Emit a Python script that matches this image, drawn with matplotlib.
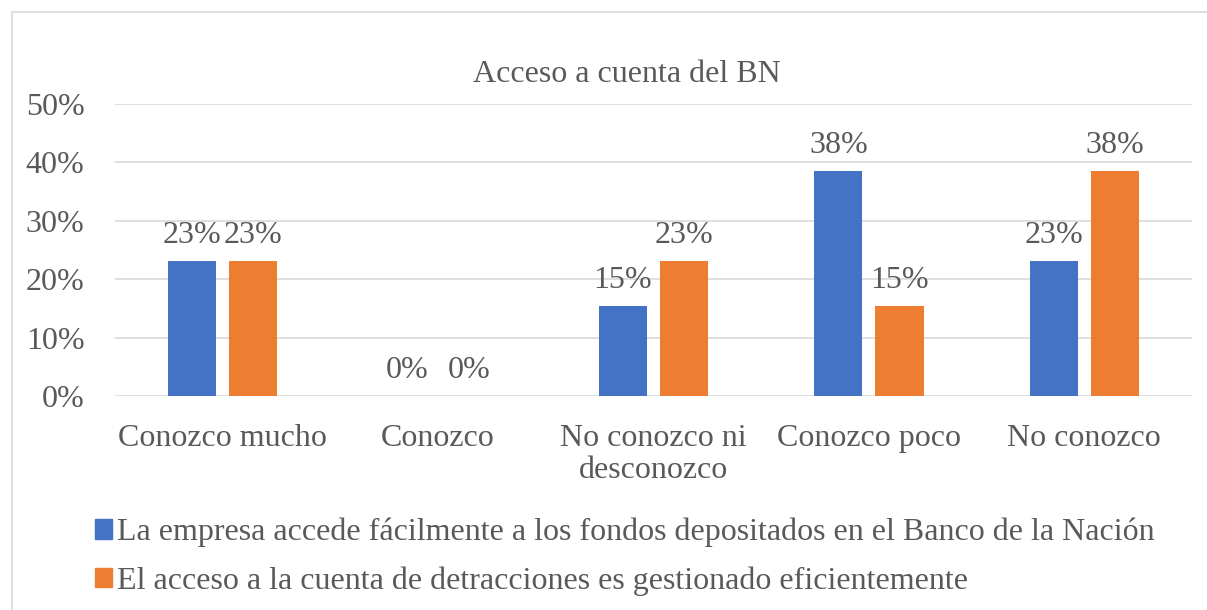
import matplotlib.pyplot as plt
import matplotlib.patches as mpatches
import numpy as np

categories = ["Conozco mucho", "Conozco", "No conozco ni\ndesconozco", "Conozco poco", "No conozco"]
serie_1 = [0.2308, 0.0, 0.1538, 0.3846, 0.2308]
serie_2 = [0.2308, 0.0, 0.2308, 0.1538, 0.3846]
labels_series = ["La empresa accede fácilmente a los fondos depositados en el Banco de la Nación",
                 "El acceso a la cuenta de detracciones es gestionado eficientemente"]
title = "Acceso a cuenta del BN"

plt.rcParams['font.family'] = ['Liberation Serif', 'DejaVu Serif']
gray = "#595959"
blue = "#4472C4"
orange = "#ED7D31"
fs = 23

fig = plt.figure(figsize=(12.07, 6.10), dpi=100)
ax = fig.add_axes([115 / 1207, 1 - 396 / 610, (1192 - 115) / 1207, (396 - 104) / 610])

x = np.arange(len(categories))
w = 0.223
off = 0.142
b1 = ax.bar(x - off, serie_1, w, color=blue, zorder=3)
b2 = ax.bar(x + off, serie_2, w, color=orange, zorder=3)

for bars in (b1, b2):
    for b in bars:
        h = b.get_height()
        ax.annotate(f"{h * 100:.0f}%", (b.get_x() + b.get_width() / 2, h),
                    xytext=(0, 8), textcoords="offset points",
                    ha="center", va="bottom", fontsize=fs, color=gray)

ax.set_xlim(-0.5, len(categories) - 0.5)
ax.set_ylim(0, 0.5)
ax.set_yticks(np.arange(0, 0.51, 0.1))
ax.set_yticklabels([f"{int(round(v * 100))}%" for v in np.arange(0, 0.51, 0.1)])
ax.set_xticks(x)
ax.set_xticklabels(categories, linespacing=1.15)
ax.tick_params(axis="both", length=0, labelsize=fs, labelcolor=gray)
ax.tick_params(axis="y", pad=22)
ax.tick_params(axis="x", pad=20)
ax.grid(axis="y", color="#D9D9D9", linewidth=1.2, zorder=0)
for s in ax.spines.values():
    s.set_visible(False)

fig.text(627 / 1207, 1 - 74 / 610, title, ha="center", va="center", fontsize=fs, color=gray)

# chart area border
fig.patches.append(mpatches.Rectangle((12 / 1207, -0.01), 1.02, 1 - 12 / 610 + 0.01,
                                      transform=fig.transFigure, fill=False,
                                      edgecolor="#D9D9D9", linewidth=1.2))

handles = [mpatches.Patch(color=blue), mpatches.Patch(color=orange)]
fig.legend(handles, labels_series, loc="upper left", bbox_to_anchor=(82 / 1207, 1 - 505 / 610),
           frameon=False, fontsize=fs, labelcolor=gray, handlelength=0.55, handleheight=0.55,
           handletextpad=0.15, labelspacing=0.6, borderaxespad=0)

fig.savefig("out.png", dpi=100)
